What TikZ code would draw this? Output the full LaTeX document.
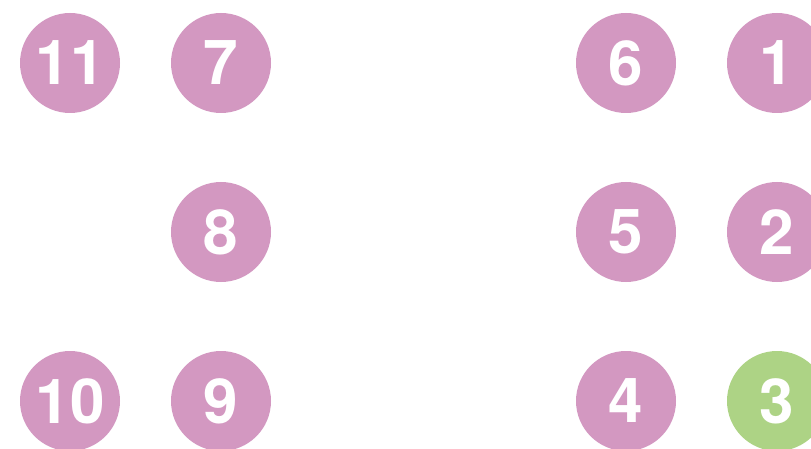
\documentclass[tikz,border=0pt]{standalone}
\usepackage{fontspec}
\setmainfont{TeX Gyre Heros}
\definecolor{pinkc}{HTML}{D398C1}
\definecolor{greenc}{HTML}{ADD385}
\begin{document}
\begin{tikzpicture}[x=1pt,y=-1pt,
  num/.style={circle,fill=pinkc,minimum size=100pt,inner sep=0pt,text=white,font=\fontsize{62}{62}\selectfont\bfseries},
  numg/.style={num,fill=greenc}]
\useasboundingbox (0,0) rectangle (811,449);
\begin{scope}
\clip (0,0) rectangle (811,449);
\node[num] (n11) at (70,63) {11};
\node[num] (n7) at (221,63) {7};
\node[num] (n6) at (626,63) {6};
\node[num] (n1) at (777,63) {1};
\node[num] (n8) at (221,232) {8};
\node[num] (n5) at (626,232) {5};
\node[num] (n2) at (777,232) {2};
\node[num] (n10) at (70,401) {10};
\node[num] (n9) at (221,401) {9};
\node[num] (n4) at (626,401) {4};
\node[numg] (n3) at (777,401) {3};
\end{scope}
\end{tikzpicture}
\end{document}
